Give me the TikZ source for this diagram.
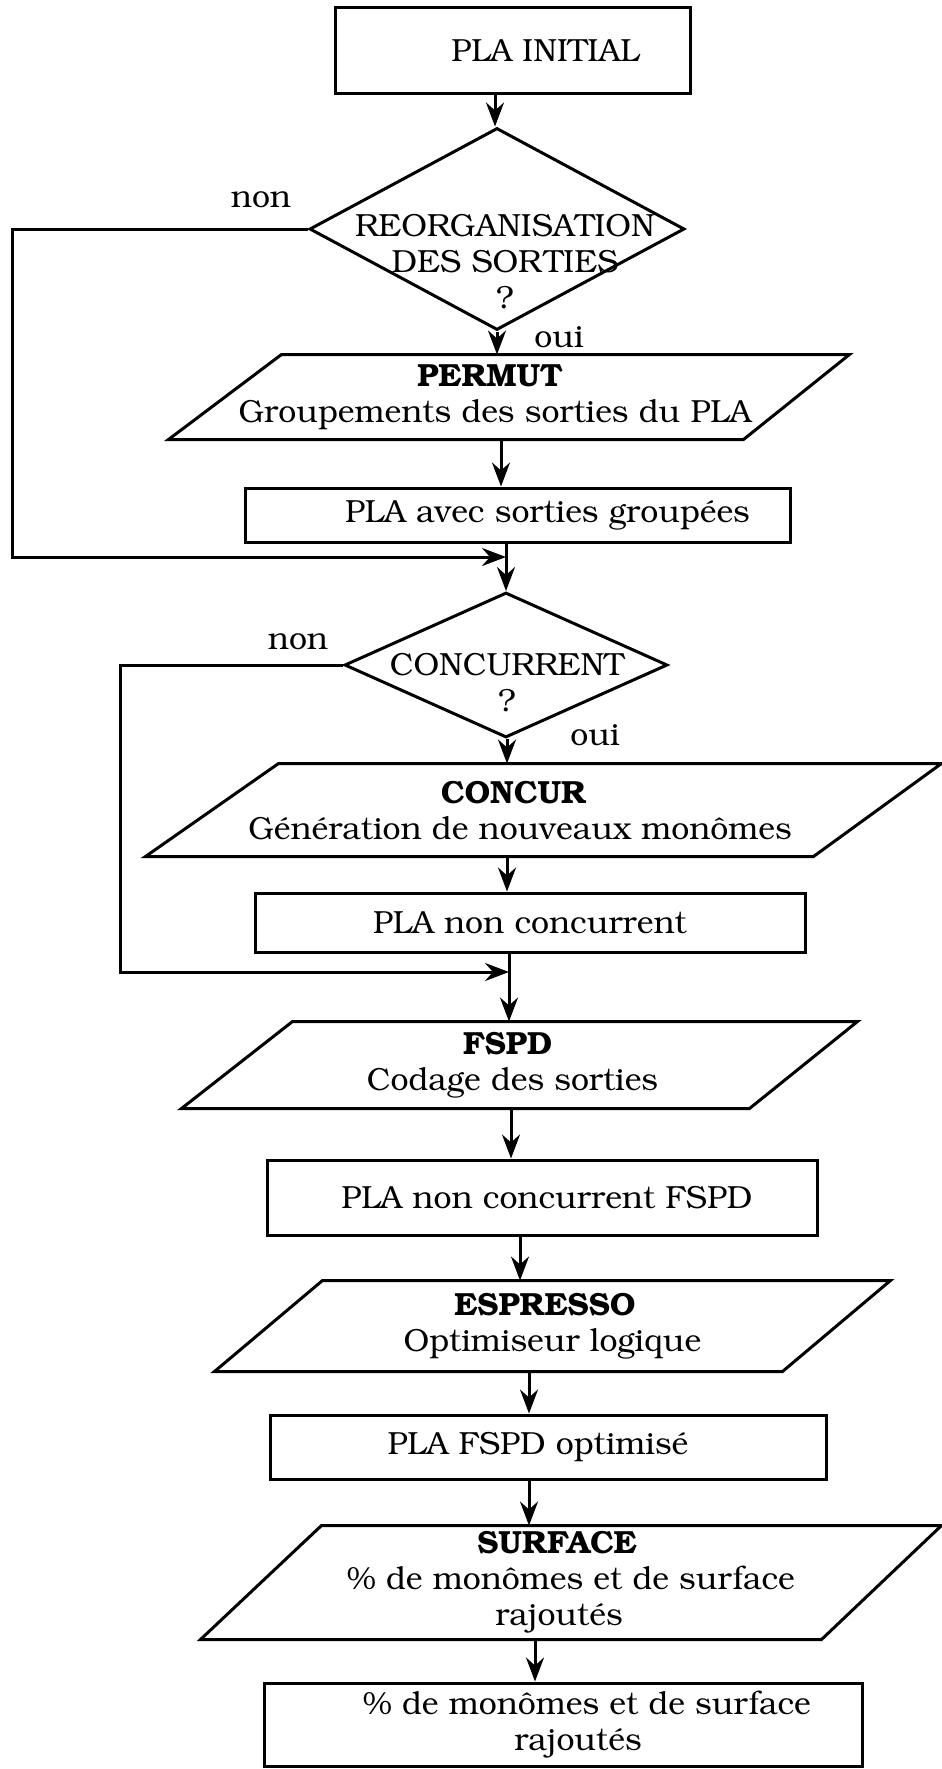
\documentclass[tikz,border=0pt]{standalone}
\usepackage[T1]{fontenc}
\usepackage{bookman}
\usetikzlibrary{shapes.geometric,arrows.meta}
\newcommand\figfont{\fontsize{32}{36}\selectfont}
% parallelogram outline around a named (invisible) node: #2 left offset, #3 right offset
\newcommand\paraoutline[3]{\draw (#1.south west) -- ([xshift=-#3pt]#1.south east) -- (#1.north east) -- ([xshift=#2pt]#1.north west) -- cycle;}
\begin{document}
\begin{tikzpicture}[x=1pt,y=-1pt,line width=3pt,
  every node/.style={font=\figfont},
  box/.style={draw,rectangle,inner sep=0pt,align=center},
  para/.style={rectangle,inner sep=0pt,align=center},
  dec/.style={draw,diamond,inner sep=0pt},
  txt/.style={inner sep=0pt,align=center},
  arr/.style={-{Stealth[length=24pt,width=18pt,inset=8pt]}}]
\useasboundingbox (0,0) rectangle (942,1769);
% arrow columns
\coordinate (a1) at (495,0);
\coordinate (a2) at (497,0);
\coordinate (a3) at (501,0);
\coordinate (a4) at (506,0);
\coordinate (a5) at (507,0);
\coordinate (a6) at (509,0);
\coordinate (a7) at (511,0);
\coordinate (a8) at (520,0);
\coordinate (a9) at (529,0);
\coordinate (a10) at (535,0);
% nodes
\node[box,minimum width=355pt,minimum height=85pt] (b1) at (512.5,50.5) {\hspace*{66pt}PLA INITIAL};
\node[dec,minimum width=375pt,minimum height=202pt] (d1) at (497,229) {};
\node[txt] (d1t) at (505,261) {REORGANISATION\\DES SORTIES\\?};
\node[para,minimum width=678pt,minimum height=82pt] (p1) at (509,397)
  {\hspace*{-38pt}\textbf{PERMUT}\\\hspace*{-28pt}Groupements des sorties du PLA};
\paraoutline{p1}{113}{106}
\node[box,minimum width=545pt,minimum height=54pt] (b2) at (517.5,515) {\hspace*{60pt}PLA avec sorties group\'ees};
\node[dec,minimum width=323pt,minimum height=145pt] (d2) at (506,665) {};
\node[txt] (d2t) at (507,682) {CONCURRENT\\?};
\node[para,minimum width=793pt,minimum height=90pt] (c1) at (543.5,810)
  {\hspace*{-60pt}\textbf{CONCUR}\\\hspace*{-47pt}G\'en\'eration de nouveaux mon\^omes};
\paraoutline{c1}{133}{128}
\node[box,minimum width=550pt,minimum height=59pt] (b3) at (530,922.5) {PLA non concurrent};
\node[para,minimum width=673pt,minimum height=84pt] (f1) at (519.5,1065)
  {\hspace*{-24pt}\textbf{FSPD}\\\hspace*{-14pt}Codage des sorties};
\paraoutline{f1}{111}{108}
\node[box,minimum width=550pt,minimum height=75pt] (b4) at (542,1197.5) {\hspace*{10pt}PLA non concurrent FSPD};
\node[para,minimum width=673pt,minimum height=88pt] (e1) at (552.5,1326)
  {\hspace*{-15pt}\textbf{ESPRESSO}\\Optimiseur logique};
\paraoutline{e1}{108}{108}
\node[box,minimum width=556pt,minimum height=64pt] (b5) at (548,1447) {\hspace*{-20pt}PLA FSPD optimis\'e};
\node[para,minimum width=738pt,minimum height=111pt] (s1) at (571,1582.5)
  {\hspace*{-28pt}\textbf{SURFACE}\\\% de mon\^omes et de surface\\\hspace*{-24pt}rajout\'es};
\paraoutline{s1}{121}{120}
\node[box,minimum width=598pt,minimum height=83pt] (b6) at (563,1724.5)
  {\hspace*{48pt}\% de mon\^omes et de surface\\\hspace*{30pt}rajout\'es};
% labels
\node[txt] (non1) at (261,200) {non};
\node[txt] (oui1) at (559,337) {oui};
\node[txt] (non2) at (298,642) {non};
\node[txt] (oui2) at (595,735) {oui};
% connectors
\draw[arr] (b1.south -| a1) -- (d1.north -| a1);
\draw[arr] (d1.south -| a2) -- (p1.north -| a2);
\draw[arr] (p1.south -| a3) -- (b2.north -| a3);
\draw[arr] (b2.south -| a4) -- (d2.north -| a4);
\draw[arr] (d2.south -| a5) -- (c1.north -| a5);
\draw[arr] (c1.south -| a5) -- (b3.north -| a5);
\draw[arr] (b3.south -| a6) -- (f1.north -| a6);
\draw[arr] (f1.south -| a7) -- (b4.north -| a7);
\draw[arr] (b4.south -| a8) -- (e1.north -| a8);
\draw[arr] (e1.south -| a9) -- (b5.north -| a9);
\draw[arr] (b5.south -| a9) -- (s1.north -| a9);
\draw[arr] (s1.south -| a10) -- (b6.north -| a10);
\coordinate (l1) at (12,557);
\coordinate (l2) at (120,972);
\draw[arr] (d1.west) -| (l1) -- (l1 -| a4);
\draw[arr] (d2.west) -| (l2) -- (l2 -| a6);
\end{tikzpicture}
\end{document}
